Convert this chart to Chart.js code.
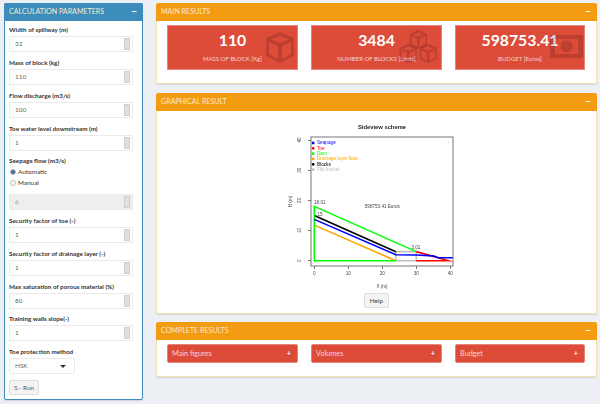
<!DOCTYPE html>
<html>
<head>
<meta charset="utf-8">
<title>Sideview scheme</title>
<script src="https://cdn.jsdelivr.net/npm/chart.js@4"></script>
<style>
html,body{margin:0;padding:0;width:600px;height:404px;overflow:hidden;background:#ecf0f5;font-family:Lato,"Open Sans",sans-serif;color:#333}
.a{position:absolute;box-sizing:border-box}
.box{background:#fff;border-radius:2px;box-shadow:0 1px 1px rgba(0,0,0,.12)}
.hd{color:#fde9c8;font-size:7.100px;line-height:17px;padding-left:5px;left:0;right:0;top:0;height:18px;border-radius:2px 2px 0 0}
.hd b{position:absolute;right:6px;top:0;font-size:10px;color:#fff}
.lb{font-size:6.300px;font-weight:700;left:9px;white-space:nowrap;color:#333}
.in{left:9px;width:124px;height:16px;border:1px solid #eaeaea;background:#fff;font-size:6.400px;line-height:14px;padding-left:5px;color:#666}
.sp{position:absolute;right:2px;top:1px;width:6px;height:12px;background:#dfdfdf;border:1px solid #cfcfcf;box-sizing:border-box}
.kpi{background:#dd4b39;color:#fff;text-align:center;top:25px;height:45px;border:1px solid #e8857a;overflow:hidden}
.kpi .n{font-size:15.800px;font-weight:700;line-height:17px;margin-top:5px}
.kpi .t{font-size:6px;margin-top:7px;color:#f6d5d0}
.kpi svg{position:absolute;fill:rgba(0,0,0,.15)}
.btn{background:#dd4b39;color:#f6d5d0;font-size:7.300px;line-height:18px;top:344px;height:19px;padding-left:4px;border:1px solid #e8857a;border-radius:2px}
.btn b{position:absolute;right:6px;top:0;color:#fff}
</style>
</head>
<body>
<div class="a box" style="left:4px;top:3px;width:139px;height:397px;border:1px solid #3c8dbc">
  <div class="a hd" style="background:#3c8dbc;top:-1px;left:-1px;right:-1px">CALCULATION PARAMETERS<b>−</b></div>
</div>
<div id="fields"></div>

<div class="a box" style="left:156px;top:3px;width:441px;height:81px;border:1px solid #f5deb0">
  <div class="a hd" style="background:#f39c12;top:-1px;left:-1px;right:-1px">MAIN RESULTS<b>−</b></div>
</div>
<div class="a kpi" style="left:167px;width:131px"><div class="n">110</div><div class="t">MASS OF BLOCK [Kg]</div>
  <svg style="left:97px;top:6px" width="30" height="31" viewBox="0 0 30 31"><path id="cube" d="M15 0 29 6V24L15 31 1 24V6ZM15 4 6 7.500 15 11 24 7.500ZM4 10V22L13 27V14ZM26 10 17 14V27L26 22Z"/></svg></div>
<div class="a kpi" style="left:311px;width:131px"><div class="n">3484</div><div class="t">NUMBER OF BLOCKS [Units]</div>
  <svg style="left:87px;top:4px" width="39" height="33" viewBox="0 0 39 33"><use href="#cube" transform="translate(10 0) scale(.62)"/><use href="#cube" transform="translate(0 14) scale(.62)"/><use href="#cube" transform="translate(20 14) scale(.62)"/></svg></div>
<div class="a kpi" style="left:455px;width:130px"><div class="n">598753.41</div><div class="t">BUDGET [Euros]</div>
  <svg style="left:94px;top:9px" width="33" height="23" viewBox="0 0 33 23"><path fill-rule="evenodd" d="M0 0H33V23H0ZM5 4V19H28V4ZM16.500 5.500A6 6 0 1 0 16.600 17.500 6 6 0 1 0 16.500 5.500Z"/></svg></div>

<div class="a box" style="left:156px;top:93px;width:441px;height:221px;border:1px solid #f5deb0">
  <div class="a hd" style="background:#f39c12;top:-1px;left:-1px;right:-1px">GRAPHICAL RESULT<b>−</b></div>
</div>
<canvas id="sideview" class="a" width="190" height="170" style="left:280px;top:120px;width:190px;height:170px"></canvas>
<div class="a" style="left:364px;top:293px;width:25px;height:15px;background:#f4f4f4;border:1px solid #ddd;border-radius:2px;font-size:6.500px;line-height:13px;text-align:center;color:#444">Help</div>

<div class="a box" style="left:156px;top:322px;width:441px;height:55px;border:1px solid #f5deb0">
  <div class="a hd" style="background:#f39c12;top:-1px;left:-1px;right:-1px">COMPLETE RESULTS<b>−</b></div>
</div>
<div class="a btn" style="left:167px;width:131px">Main figures<b>+</b></div>
<div class="a btn" style="left:311px;width:131px">Volumes<b>+</b></div>
<div class="a btn" style="left:455px;width:130px">Budget<b>+</b></div>

<script>
// sideview geometry
const seriesNames = ['Seapage', 'Toe', 'Dam', 'Drainage layer floor', 'Blocks', 'Flip bucket'];
const seriesColors = ['#0000ff', '#ff0000', '#00ff00', '#ffa500', '#000000', '#bebebe'];
const seapageX = [0, 24, 30, 35, 36.5, 41];
const seapageY = [13.7, 2, 1.9, 1.6, 1, 1];
const toeX = [30, 39.5, 30];
const toeY = [3.01, 0, 0];
const damX = [24, 0, 0, 30];
const damY = [0, 0, 18.01, 3.01];
const drainX = [0, 24];
const drainY = [11.8, 0];
const blocksX = [0, 24];
const blocksY = [15, 3];
const flipX = [24, 24, 30, 30, 24];
const flipY = [0, 3.01, 3.01, 0, 0];
const speckX = [39.4];
const speckY = [39.3];
const xTicks = [0, 10, 20, 30, 40];
const yTicks = [0, 10, 20, 30, 40];
const noteText = ['18.01', '15', '3.01', '598753.41 Euros'];
const noteX = [1.6, 1.7, 29.9, 20];
const noteY = [19.2, 15.4, 4.3, 17.9];

function pairs(xs, ys) {
    return xs.map((x, i) => ({ x: x, y: ys[i] }));
}

const allSeries = [
    pairs(seapageX, seapageY), pairs(toeX, toeY), pairs(damX, damY),
    pairs(drainX, drainY), pairs(blocksX, blocksY), pairs(flipX, flipY)
];

// left panel inputs
const fieldLabels = ['Width of spillway (m)', 'Mass of block (kg)', 'Flow discharge (m3/s)', 'Toe water level downstream (m)',
    'Security factor of toe (-)', 'Security factor of drainage layer (-)', 'Max saturation of porous material (%)', 'Training walls slope(-)'];
const fieldValues = ['32', '110', '100', '1', '1', '1', '80', '1'];
const fieldTops = [36, 69, 102, 135, 227, 260, 293, 325];

let html = '';
fieldLabels.forEach((label, i) => {
    html += '<div class="a lb" style="top:' + (fieldTops[i] - 10) + 'px">' + label + '</div>';
    html += '<div class="a in" style="top:' + fieldTops[i] + 'px">' + fieldValues[i] + '<span class="sp"></span></div>';
});
html += '<div class="a lb" style="top:157px">Seepage flow (m3/s)</div>';
html += '<div class="a" style="left:10px;top:169px;width:6px;height:6px;border-radius:50%;background:#3c6f95;border:1px solid #bbb"></div>';
html += '<div class="a" style="left:18px;top:168px;font-size:6.4px">Automatic</div>';
html += '<div class="a" style="left:10px;top:180px;width:6px;height:6px;border-radius:50%;background:#fff;border:1px solid #bbb"></div>';
html += '<div class="a" style="left:18px;top:179px;font-size:6.4px">Manual</div>';
html += '<div class="a in" style="top:194px;background:#eee;color:#999">6<span class="sp"></span></div>';
html += '<div class="a lb" style="top:348px">Toe protection method</div>';
html += '<div class="a in" style="top:358px;width:66px;border-radius:2px">HSK<span style="position:absolute;right:8px;top:6px;border:3px solid transparent;border-top-color:#333"></span></div>';
html += '<div class="a" style="left:9px;top:380px;width:30px;height:15px;background:#f4f4f4;border:1px solid #ddd;border-radius:2px;font-size:6.4px;line-height:13px;text-align:center;color:#555">5.- Run</div>';
document.getElementById('fields').innerHTML = html;

// box around the plot, rotated y labels and the text notes
const sideviewExtras = {
    id: 'sideviewExtras',
    afterLayout(chart) {
        // legend in the chart area starts at the canvas top otherwise, title follows the plot centre
        const area = chart.chartArea;
        chart.legend.top = area.top + 3;
        chart.titleBlock.left = area.left;
        chart.titleBlock.right = area.right;
    },
    afterDraw(chart) {
        const c = chart.ctx;
        const area = chart.chartArea;
        const sx = chart.scales.x;
        const sy = chart.scales.y;
        c.save();
        c.strokeStyle = '#777';
        c.lineWidth = 1;
        c.strokeRect(area.left, area.top, area.width, area.height);
        c.fillStyle = '#444';
        c.font = '4.6px "Liberation Sans"';
        c.textAlign = 'center';
        c.textBaseline = 'middle';
        sy.ticks.forEach(t => {
            c.save();
            c.translate(area.left - 11, sy.getPixelForValue(t.value));
            c.rotate(-Math.PI / 2);
            c.fillText(t.label, 0, 0);
            c.restore();
        });
        noteText.forEach((text, i) => {
            c.fillText(text, sx.getPixelForValue(noteX[i]), sy.getPixelForValue(noteY[i]));
        });
        c.restore();
    }
};

const lineSets = seriesNames.map((name, i) => ({
    label: name,
    data: allSeries[i],
    showLine: true,
    borderColor: seriesColors[i],
    backgroundColor: seriesColors[i],
    borderWidth: 1.6,
    pointRadius: 0,
    tension: 0
}));
lineSets.push({ data: pairs(speckX, speckY), pointRadius: 0.7, pointBorderWidth: 0, backgroundColor: '#cfcfcf' });

new Chart(document.getElementById('sideview'), {
    type: 'scatter',
    data: { datasets: lineSets },
    options: {
        responsive: false,
        animation: false,
        layout: { padding: { right: 17 } },
        plugins: {
            title: {
                display: true,
                text: 'Sideview scheme',
                color: '#222',
                font: { family: 'Liberation Sans', size: 5.8, weight: 'bold', lineHeight: 1 },
                padding: { top: 4, bottom: 7.2 }
            },
            legend: {
                position: 'chartArea',
                align: 'start',
                labels: {
                    boxWidth: 3,
                    boxHeight: 2,
                    padding: 0.63,
                    usePointStyle: true,
                    pointStyle: 'circle',
                    font: { family: 'Liberation Sans', size: 4.7 },
                    generateLabels: () => seriesNames.map((name, i) => ({
                        text: name,
                        fontColor: seriesColors[i],
                        fillStyle: seriesColors[i],
                        strokeStyle: seriesColors[i],
                        lineWidth: 0,
                        pointStyle: 'circle',
                        datasetIndex: i
                    }))
                }
            },
            tooltip: { enabled: false }
        },
        scales: {
            x: {
                type: 'linear',
                min: -0.97,
                max: 40.8,
                afterBuildTicks: s => { s.ticks = xTicks.map(v => ({ value: v })); },
                afterFit: s => { s.height = 24; },
                grid: { drawOnChartArea: false, tickLength: 3, color: '#777' },
                border: { display: false },
                ticks: { color: '#444', maxRotation: 0, padding: 2, font: { family: 'Liberation Sans', size: 4.6 } },
                title: { display: true, text: 'X (m)', color: '#444', padding: 1, font: { family: 'Liberation Sans', size: 4.6 } }
            },
            y: {
                type: 'linear',
                min: -1.75,
                max: 41,
                afterBuildTicks: s => { s.ticks = yTicks.map(v => ({ value: v })); },
                afterFit: s => { s.width = 31; },
                grid: { drawOnChartArea: false, tickLength: 3, color: '#777' },
                border: { display: false },
                ticks: { display: false },
                title: { display: true, text: 'H (m)', color: '#444', padding: { top: 8, bottom: 0 }, font: { family: 'Liberation Sans', size: 4.6 } }
            }
        }
    },
    plugins: [sideviewExtras]
});
</script>
</body>
</html>
